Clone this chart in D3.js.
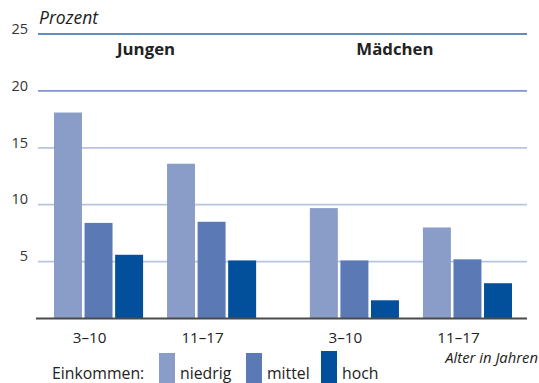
<!DOCTYPE html>
<html>
<head>
<meta charset="utf-8">
<script src="https://cdn.jsdelivr.net/npm/d3@7"></script>
<style>
  html, body { margin: 0; padding: 0; background: #fff; }
  svg { display: block; font-family: "Open Sans", Lato, sans-serif; }
</style>
</head>
<body>
<svg id="chart" width="539" height="383"></svg>
<script>
// Anteil in Prozent nach Geschlecht, Altersgruppe und Einkommen
const sexes = ["Jungen", "Mädchen"];
const ageGroups = ["3–10", "11–17"];
const incomes = ["niedrig", "mittel", "hoch"];
const jungenValues = [[18.1, 8.4, 5.6], [13.6, 8.5, 5.1]];
const maedchenValues = [[9.7, 5.1, 1.6], [8.0, 5.2, 3.1]];
const yTicks = [5, 10, 15, 20, 25];
const incomeColors = ["#8a9cc8", "#5b79b4", "#02509b"];

const valuesBySex = { "Jungen": jungenValues, "Mädchen": maedchenValues };
const rows = [];
sexes.forEach(s => ageGroups.forEach((a, ai) => incomes.forEach((inc, ii) => {
  rows.push({ sex: s, age: a, income: inc, value: valuesBySex[s][ai][ii] });
})));

const svg = d3.select("#chart");

const y = d3.scaleLinear().domain([0, 25]).range([318.5, 34]);
const xSex = d3.scaleBand().domain(sexes).range([54, 512]).paddingInner(0.21).paddingOuter(0);
const xAge = d3.scaleBand().domain(ageGroups).range([0, xSex.bandwidth()]).paddingInner(0.212).paddingOuter(0);
const xInc = d3.scaleBand().domain(incomes).range([0, xAge.bandwidth()]).paddingInner(0.085).paddingOuter(0);
const color = d3.scaleOrdinal().domain(incomes).range(incomeColors);

// Gitterlinien
const gridColor = v => v === 25 ? "#2a66ad" : (v === 20 ? "#7d97cb" : "#b8c3e0");
svg.append("g").selectAll("line").data(yTicks).join("line")
  .attr("x1", 38).attr("x2", 527)
  .attr("y1", d => y(d)).attr("y2", d => y(d))
  .attr("stroke", gridColor)
  .attr("stroke-width", d => d >= 20 ? 1.6 : 1.8);

// y-Achsenbeschriftung
const yAxis = d3.axisLeft(y).tickValues(yTicks).tickSize(0).tickPadding(0);
const gy = svg.append("g").attr("transform", "translate(28,0)").call(yAxis);
gy.select(".domain").remove();
gy.selectAll("text")
  .attr("dy", "-0.05em")
  .attr("font-size", 14.5)
  .attr("font-family", "'Open Sans', sans-serif")
  .attr("fill", "#333");

// Balken
svg.append("g").selectAll("rect").data(rows).join("rect")
  .attr("x", d => xSex(d.sex) + xAge(d.age) + xInc(d.income))
  .attr("width", xInc.bandwidth())
  .attr("y", d => y(d.value))
  .attr("height", d => y(0) - y(d.value))
  .attr("fill", d => color(d.income));

// Grundlinie
svg.append("line")
  .attr("x1", 36).attr("x2", 527)
  .attr("y1", y(0)).attr("y2", y(0))
  .attr("stroke", "#4a4a4a").attr("stroke-width", 2);

// Altersgruppen unter den Balken
const ageLabels = [];
sexes.forEach(s => ageGroups.forEach(a => ageLabels.push({ sex: s, age: a })));
svg.append("g").selectAll("text").data(ageLabels).join("text")
  .attr("x", d => xSex(d.sex) + xAge(d.age) + xAge.bandwidth() / 2 - 9)
  .attr("y", 343)
  .attr("text-anchor", "middle")
  .attr("font-size", 15.2)
  .attr("fill", "#222")
  .text(d => d.age);

// Geschlecht als Überschrift
svg.append("g").selectAll("text").data(sexes).join("text")
  .attr("x", (d, i) => xSex(d) + xSex.bandwidth() / 2 - (i === 0 ? 9 : 16))
  .attr("y", 55)
  .attr("text-anchor", "middle")
  .attr("font-size", 16.8)
  .attr("font-weight", "bold")
  .attr("fill", "#222")
  .text(d => d);

// Einheit
svg.append("text")
  .attr("x", 39).attr("y", 24)
  .attr("font-size", 17.5).attr("font-style", "italic")
  .attr("fill", "#222")
  .text("Prozent");

svg.append("text")
  .attr("x", 538).attr("y", 363)
  .attr("text-anchor", "end")
  .attr("font-size", 14.8).attr("font-style", "italic")
  .attr("fill", "#222")
  .text("Alter in Jahren");

// Legende
const legend = svg.append("g");
legend.append("text")
  .attr("x", 52).attr("y", 378.5)
  .attr("font-size", 15.8).attr("fill", "#222")
  .text("Einkommen:");
const legendX = [159, 246, 321];
const items = legend.selectAll("g.item").data(incomes).join("g").attr("class", "item")
  .attr("transform", (d, i) => `translate(${legendX[i]},0)`);
items.append("rect")
  .attr("x", 0).attr("y", (d, i) => i === 2 ? 351 : 353)
  .attr("width", 16).attr("height", 40)
  .attr("fill", d => color(d));
items.append("text")
  .attr("x", 21).attr("y", 378.5)
  .attr("font-size", 15.8).attr("fill", "#222")
  .text(d => d);
</script>
</body>
</html>
